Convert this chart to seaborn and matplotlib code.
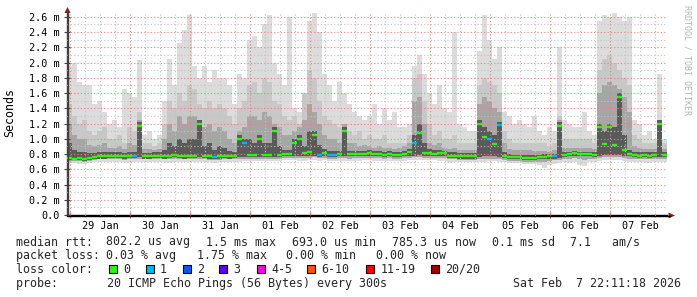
import numpy as np
import pandas as pd
import matplotlib
matplotlib.use("Agg")
import matplotlib.pyplot as plt
import seaborn as sns
from matplotlib.patches import Polygon, Rectangle
from matplotlib.lines import Line2D
from matplotlib.ticker import FixedLocator, MultipleLocator, FuncFormatter, NullFormatter

# ---------------- data (2-hour samples) ----------------
day_labels = ["29 Jan", "30 Jan", "31 Jan", "01 Feb", "02 Feb",
              "03 Feb", "04 Feb", "05 Feb", "06 Feb", "07 Feb"]
ytick_values = [0.0, 0.2, 0.4, 0.6, 0.8, 1.0, 1.2, 1.4, 1.6, 1.8, 2.0, 2.2, 2.4, 2.6]
ytick_labels = ["0.0", "0.2 m", "0.4 m", "0.6 m", "0.8 m", "1.0 m", "1.2 m",
                "1.4 m", "1.6 m", "1.8 m", "2.0 m", "2.2 m", "2.4 m", "2.6 m"]

median_ms = [
    0.75, 0.74, 0.75, 0.73, 0.75, 0.76, 0.77, 0.77, 0.78, 0.78,
    0.78, 0.77, 0.78, 0.78, 1.17, 0.77, 0.77, 0.78, 0.78, 0.77,
    0.78, 0.79, 0.78, 0.77, 0.78, 0.78, 1.20, 0.78, 0.77, 0.76,
    0.77, 0.78, 0.77, 0.78, 1.00, 0.94, 0.79, 0.79, 1.00, 0.79,
    0.79, 1.10, 0.79, 0.80, 0.80, 0.95, 1.00, 0.81, 0.82, 1.05,
    0.79, 0.81, 0.79, 0.79, 0.80, 1.10, 0.80, 0.80, 0.80, 0.80,
    0.81, 0.80, 0.80, 0.79, 0.80, 0.79, 0.79, 0.80, 0.82, 0.95,
    1.08, 0.81, 0.81, 0.80, 0.81, 0.81, 0.78, 0.78, 0.77, 0.77,
    0.77, 0.77, 1.20, 1.02, 1.00, 0.93, 1.18, 0.78, 0.76, 0.76,
    0.76, 0.75, 0.75, 0.75, 0.76, 0.76, 0.77, 0.77, 1.17, 0.79,
    0.80, 0.81, 0.80, 0.80, 0.80, 0.79, 1.15, 0.93, 1.15, 0.92,
    1.55, 0.85, 0.80, 0.79, 0.78, 0.79, 0.78, 0.79, 1.20, 0.79,
]
smoke_max = [
    1.95, 2.00, 1.75, 1.70, 1.70, 1.45, 1.50, 1.35, 1.20, 1.25,
    1.15, 1.65, 1.60, 1.55, 2.03, 1.05, 1.10, 1.00, 1.05, 1.50,
    2.05, 1.70, 2.25, 2.43, 2.62, 1.95, 1.80, 1.95, 1.75, 1.90,
    1.80, 1.80, 1.70, 1.45, 1.85, 1.80, 2.30, 2.35, 2.20, 2.50,
    2.62, 2.00, 1.85, 1.70, 2.60, 1.40, 1.35, 1.50, 2.55, 2.65,
    2.40, 1.85, 1.70, 1.50, 1.75, 1.60, 1.45, 1.35, 1.30, 1.25,
    1.30, 1.45, 1.20, 1.40, 1.25, 1.35, 1.15, 1.15, 1.20, 1.95,
    2.10, 1.85, 1.60, 1.45, 1.70, 1.40, 1.35, 2.40, 1.20, 1.15,
    1.10, 1.10, 2.15, 2.62, 2.30, 2.05, 2.20, 1.35, 1.30, 1.20,
    1.25, 1.20, 1.15, 1.30, 1.10, 1.05, 1.15, 1.10, 2.20, 1.25,
    1.20, 1.15, 1.15, 1.35, 1.10, 1.05, 2.55, 2.62, 2.60, 2.65,
    2.60, 2.55, 2.60, 1.25, 1.20, 1.05, 1.10, 1.00, 1.85, 1.00,
]
smoke_p90 = [
    1.45, 1.30, 1.20, 1.25, 1.10, 1.05, 1.10, 1.15, 1.00, 1.00,
    1.05, 0.95, 1.15, 1.10, 1.35, 0.95, 0.95, 0.90, 0.95, 1.20,
    1.50, 1.40, 1.60, 1.50, 1.70, 1.65, 1.45, 1.40, 1.50, 1.40,
    1.45, 1.40, 1.30, 1.20, 1.40, 1.50, 1.70, 1.75, 1.60, 1.80,
    1.75, 1.50, 1.45, 1.30, 1.25, 1.30, 1.20, 1.60, 1.90, 1.80,
    1.50, 1.30, 1.25, 1.20, 1.15, 1.20, 1.10, 1.05, 1.10, 1.00,
    1.05, 1.00, 1.00, 1.05, 0.95, 0.95, 0.95, 0.95, 1.05, 1.80,
    1.85, 1.50, 1.20, 1.05, 1.10, 1.00, 1.00, 1.05, 0.95, 0.95,
    0.95, 0.95, 1.70, 1.80, 1.75, 1.70, 1.60, 1.10, 1.00, 0.95,
    0.95, 0.95, 0.95, 0.95, 0.95, 0.95, 0.90, 0.95, 1.30, 1.00,
    1.00, 1.00, 1.00, 1.00, 1.00, 0.95, 1.90, 2.05, 2.10, 2.00,
    1.90, 1.80, 1.70, 1.05, 1.00, 0.95, 0.95, 0.95, 1.25, 0.95,
]
smoke_p75 = [
    1.20, 1.05, 1.00, 1.00, 0.92, 0.90, 0.92, 0.95, 0.88, 0.88,
    0.90, 0.86, 0.95, 0.92, 1.25, 0.86, 0.86, 0.85, 0.86, 1.00,
    1.20, 1.10, 1.30, 1.20, 1.30, 1.30, 1.25, 1.15, 1.20, 1.10,
    1.15, 1.10, 1.00, 0.95, 1.10, 1.15, 1.30, 1.30, 1.25, 1.35,
    1.30, 1.20, 1.15, 1.05, 1.05, 1.10, 1.15, 1.25, 1.45, 1.35,
    1.20, 1.05, 1.00, 1.00, 0.95, 1.20, 0.95, 0.95, 0.90, 0.92,
    0.90, 0.88, 0.90, 0.88, 0.88, 0.87, 0.88, 0.90, 0.95, 1.50,
    1.55, 1.20, 0.95, 0.92, 0.95, 0.88, 0.86, 0.88, 0.85, 0.85,
    0.85, 0.85, 1.45, 1.55, 1.50, 1.40, 1.35, 0.95, 0.87, 0.85,
    0.85, 0.85, 0.85, 0.84, 0.84, 0.84, 0.83, 0.85, 1.25, 0.88,
    0.88, 0.88, 0.88, 0.88, 0.88, 0.86, 1.60, 1.70, 1.75, 1.70,
    1.65, 1.55, 1.35, 0.90, 0.88, 0.86, 0.86, 0.86, 1.25, 0.87,
]
smoke_p60 = [
    0.95, 0.85, 0.82, 0.82, 0.81, 0.81, 0.82, 0.82, 0.82, 0.82,
    0.82, 0.81, 0.82, 0.82, 1.22, 0.81, 0.81, 0.82, 0.82, 0.85,
    0.95, 0.90, 1.00, 0.95, 1.00, 1.00, 1.25, 0.90, 0.95, 0.85,
    0.90, 0.88, 0.84, 0.82, 1.05, 1.00, 1.00, 0.95, 1.05, 0.95,
    0.95, 1.15, 0.90, 0.85, 0.85, 1.00, 1.05, 0.90, 1.10, 1.10,
    0.92, 0.86, 0.84, 0.84, 0.84, 1.15, 0.84, 0.84, 0.84, 0.84,
    0.85, 0.84, 0.84, 0.83, 0.84, 0.83, 0.83, 0.84, 0.86, 1.05,
    1.20, 0.95, 0.86, 0.85, 0.85, 0.84, 0.82, 0.82, 0.81, 0.81,
    0.81, 0.81, 1.25, 1.15, 1.10, 1.05, 1.22, 0.83, 0.80, 0.79,
    0.79, 0.79, 0.79, 0.79, 0.79, 0.80, 0.80, 0.80, 1.22, 0.83,
    0.83, 0.84, 0.83, 0.83, 0.83, 0.83, 1.20, 1.10, 1.20, 1.15,
    1.60, 1.05, 0.85, 0.83, 0.82, 0.82, 0.82, 0.82, 1.25, 0.82,
]
smoke_p40 = [
    0.72, 0.72, 0.72, 0.71, 0.72, 0.73, 0.74, 0.74, 0.75, 0.75,
    0.75, 0.74, 0.75, 0.75, 0.76, 0.74, 0.74, 0.75, 0.75, 0.74,
    0.75, 0.76, 0.75, 0.74, 0.75, 0.75, 0.76, 0.75, 0.74, 0.73,
    0.74, 0.75, 0.74, 0.75, 0.76, 0.76, 0.76, 0.76, 0.76, 0.76,
    0.76, 0.76, 0.76, 0.77, 0.77, 0.77, 0.77, 0.78, 0.78, 0.78,
    0.76, 0.78, 0.76, 0.76, 0.77, 0.77, 0.77, 0.77, 0.77, 0.77,
    0.78, 0.77, 0.77, 0.76, 0.77, 0.76, 0.76, 0.77, 0.78, 0.78,
    0.79, 0.78, 0.78, 0.77, 0.78, 0.78, 0.75, 0.75, 0.74, 0.74,
    0.74, 0.74, 0.76, 0.77, 0.77, 0.77, 0.76, 0.75, 0.73, 0.73,
    0.73, 0.72, 0.72, 0.72, 0.73, 0.73, 0.74, 0.74, 0.75, 0.76,
    0.77, 0.78, 0.77, 0.77, 0.77, 0.76, 0.78, 0.79, 0.79, 0.79,
    0.79, 0.78, 0.77, 0.76, 0.75, 0.76, 0.75, 0.76, 0.76, 0.76,
]
smoke_low = [
    0.71, 0.71, 0.71, 0.70, 0.71, 0.72, 0.73, 0.73, 0.73, 0.73,
    0.73, 0.72, 0.73, 0.73, 0.73, 0.73, 0.73, 0.73, 0.73, 0.73,
    0.73, 0.74, 0.73, 0.73, 0.73, 0.73, 0.73, 0.73, 0.72, 0.72,
    0.72, 0.73, 0.73, 0.73, 0.73, 0.74, 0.74, 0.74, 0.74, 0.74,
    0.74, 0.74, 0.74, 0.75, 0.75, 0.75, 0.75, 0.75, 0.75, 0.76,
    0.75, 0.75, 0.74, 0.74, 0.75, 0.75, 0.74, 0.75, 0.75, 0.75,
    0.75, 0.75, 0.75, 0.74, 0.75, 0.74, 0.74, 0.75, 0.75, 0.76,
    0.76, 0.75, 0.75, 0.75, 0.75, 0.75, 0.73, 0.73, 0.72, 0.72,
    0.72, 0.72, 0.73, 0.74, 0.74, 0.74, 0.74, 0.72, 0.71, 0.71,
    0.71, 0.70, 0.70, 0.70, 0.70, 0.69, 0.71, 0.72, 0.72, 0.74,
    0.74, 0.75, 0.73, 0.72, 0.74, 0.74, 0.75, 0.76, 0.76, 0.76,
    0.76, 0.75, 0.74, 0.74, 0.73, 0.73, 0.73, 0.74, 0.74, 0.74,
]
smoke_min = [
    0.68, 0.68, 0.67, 0.67, 0.68, 0.69, 0.69, 0.69, 0.70, 0.70,
    0.70, 0.69, 0.70, 0.70, 0.70, 0.70, 0.70, 0.70, 0.70, 0.69,
    0.70, 0.70, 0.70, 0.70, 0.69, 0.70, 0.70, 0.70, 0.69, 0.68,
    0.69, 0.70, 0.70, 0.70, 0.70, 0.71, 0.71, 0.71, 0.71, 0.71,
    0.71, 0.71, 0.71, 0.72, 0.72, 0.72, 0.71, 0.71, 0.72, 0.72,
    0.71, 0.72, 0.71, 0.71, 0.71, 0.71, 0.71, 0.71, 0.71, 0.72,
    0.72, 0.71, 0.71, 0.71, 0.71, 0.71, 0.71, 0.71, 0.72, 0.72,
    0.72, 0.72, 0.72, 0.72, 0.71, 0.71, 0.70, 0.70, 0.69, 0.69,
    0.69, 0.69, 0.69, 0.70, 0.71, 0.71, 0.70, 0.69, 0.68, 0.68,
    0.68, 0.67, 0.67, 0.67, 0.66, 0.62, 0.65, 0.67, 0.68, 0.70,
    0.70, 0.70, 0.65, 0.64, 0.69, 0.70, 0.71, 0.72, 0.72, 0.72,
    0.72, 0.71, 0.70, 0.70, 0.69, 0.69, 0.68, 0.69, 0.70, 0.70,
]
loss_one_idx = [13, 29, 35, 50, 52, 53, 69, 84, 86, 97]   # samples with 1/20 lost

loss_names = ["0", "1", "2", "3", "4-5", "6-10", "11-19", "20/20"]
loss_cols = ["#26ff00", "#00b8ff", "#0059ff", "#5e00ff", "#ff00ea",
             "#ff5500", "#ff0000", "#a10000"]

stats_row1 = ["802.2 us avg", "1.5 ms max", "693.0 us min",
              "785.3 us now", "0.1 ms sd", "7.1   am/s"]
stats_row2 = ["0.03 % avg", "1.75 % max", "0.00 % min", "0.00 % now"]

# ---------------- figure ----------------
sns.set_style("white")
plt.rcParams["font.family"] = ["DejaVu Sans Mono", "DejaVu Sans"]
W, H = 697, 297
fig = plt.figure(figsize=(W / 100, H / 100), dpi=100)
fig.patch.set_facecolor("white")


def fx(px):
    return px / W


def fy(py):
    return 1 - py / H


ax = fig.add_axes([fx(67), fy(215), 600 / W, 202 / H])
ax.set_facecolor("white")

n = len(median_ms)
for arr in (smoke_max, smoke_p90, smoke_p75, smoke_p60, smoke_p40, smoke_low, smoke_min):
    assert len(arr) == n
t0 = np.arange(n) * 2.0 - 1.2          # sample start (hours from 29 Jan 00:00)
t_edges = np.append(t0, t0[-1] + 2.0)


def ext(a):
    a = np.asarray(a, float)
    return np.append(a, a[-1])


bands = [(smoke_min, smoke_max, "#dcdcdc"),
         (smoke_low, smoke_p90, "#c8c8c8"),
         (smoke_low, smoke_p75, "#a6a6a6"),
         (smoke_p40, smoke_p60, "#5a5a5a")]
for lo, hi, col in bands:
    ax.fill_between(t_edges, ext(lo), ext(hi), step="post", color=col,
                    linewidth=0, zorder=1)

loss = np.array(["0"] * n, dtype=object)
loss[loss_one_idx] = "1"
df = pd.DataFrame({"hour": t0 + 1.0, "rtt": median_ms, "loss": loss})
sns.scatterplot(data=df, x="hour", y="rtt", hue="loss",
                palette={"0": loss_cols[0], "1": loss_cols[1]},
                marker="_", s=13, linewidth=1.7, legend=False, ax=ax, zorder=4)

ax.set_xlim(-1.2, 238.8)
ax.set_ylim(0, 2.65)
ax.set_xlabel("")
ax.set_ylabel("")

# x ticks: midnights (major, red grid), 6 h (minor, grey grid), labels at noon
ax.xaxis.set_major_locator(MultipleLocator(24))
ax.xaxis.set_minor_locator(MultipleLocator(6))
ax.xaxis.set_major_formatter(NullFormatter())


def day_fmt(v, pos):
    d = int(v // 24)
    if abs(v - d * 24 - 12) < 1e-6 and 0 <= d < len(day_labels):
        return day_labels[d]
    return ""


ax.xaxis.set_minor_formatter(FuncFormatter(day_fmt))
ax.yaxis.set_major_locator(FixedLocator(ytick_values))
ax.set_yticklabels(ytick_labels)
ax.yaxis.set_minor_locator(MultipleLocator(0.1))

ax.grid(True, which="major", color="#f08080", linestyle=(0, (1, 2)), linewidth=0.8)
ax.grid(True, which="minor", color="#c4c4c4", linestyle=(0, (1, 2)), linewidth=0.8)
ax.set_axisbelow(False)

ax.tick_params(axis="x", which="major", direction="inout", length=4, width=0.8,
               color="#e06060", labelbottom=False)
ax.tick_params(axis="x", which="minor", direction="inout", length=3, width=0.8,
               color="#b0b0b0", labelsize=7.3, pad=3, labelcolor="black")
ax.tick_params(axis="y", which="major", direction="inout", length=4, width=0.8,
               color="#404040", labelsize=7.3, pad=3.5, labelcolor="black")
ax.tick_params(axis="y", which="minor", direction="inout", length=2, width=0.6,
               color="#b0b0b0")
ax.tick_params(left=True, bottom=True, which="both")

for s in ("top", "right"):
    ax.spines[s].set_visible(False)
ax.spines["left"].set_color("#404040")
ax.spines["left"].set_linewidth(1.0)
ax.spines["bottom"].set_color("black")
ax.spines["bottom"].set_linewidth(1.0)

# axis extensions and arrows
arrow_col = "#8e1b1b"
fig.add_artist(Line2D([fx(67.5), fx(67.5)], [fy(215), fy(11)], color="#404040", lw=1.0))
fig.add_artist(Line2D([fx(67), fx(670)], [fy(215.5), fy(215.5)], color="black", lw=1.0))
fig.add_artist(Polygon([[fx(67.5), fy(7)], [fx(64.5), fy(13)], [fx(70.5), fy(13)]],
                       closed=True, color=arrow_col, lw=0))
fig.add_artist(Polygon([[fx(675), fy(215.5)], [fx(668.5), fy(212.5)], [fx(668.5), fy(218.5)]],
                       closed=True, color=arrow_col, lw=0))

# y label and watermark
FS = 8.35
fig.text(fx(10), fy(113), "Seconds", rotation=90, ha="center", va="center",
         fontsize=FS, color="black")
fig.text(fx(687.5), fy(60), "RRDTOOL / TOBI OETIKER", rotation=270, ha="center",
         va="center", fontsize=6.0, color="#b4b4b4")

# legend / statistics rows
b1, b2, b3, b4 = 245.5, 259.2, 272.9, 286.6
fig.text(fx(16), fy(b1), "median rtt:", fontsize=FS, va="baseline")
for xpos, s in zip([106.5, 206.0, 292.5, 392.5, 492.5, 569.5], stats_row1):
    fig.text(fx(xpos), fy(b1), s, fontsize=FS, va="baseline")
fig.text(fx(16), fy(b2), "packet loss:", fontsize=FS, va="baseline")
for xpos, s in zip([106.5, 197.0, 286.5, 376.0], stats_row2):
    fig.text(fx(xpos), fy(b2), s, fontsize=FS, va="baseline")

fig.text(fx(16), fy(b3), "loss color:", fontsize=FS, va="baseline")
box_x = [108.5, 145.5, 182.5, 219.0, 256.5, 306.5, 366.0, 430.5]
for bx, name, col in zip(box_x, loss_names, loss_cols):
    fig.add_artist(Rectangle((fx(bx), fy(273.0)), 8 / W, 8 / H, facecolor=col,
                             edgecolor="black", linewidth=0.8))
    fig.text(fx(bx + 14.5), fy(b3), name, fontsize=FS, va="baseline")

fig.text(fx(16), fy(b4), "probe:       20 ICMP Echo Pings (56 Bytes) every 300s",
         fontsize=FS, va="baseline")
fig.text(fx(681), fy(b4), "Sat Feb  7 22:11:18 2026", fontsize=FS, va="baseline",
         ha="right")

fig.savefig("out.png", dpi=100, facecolor="white")
